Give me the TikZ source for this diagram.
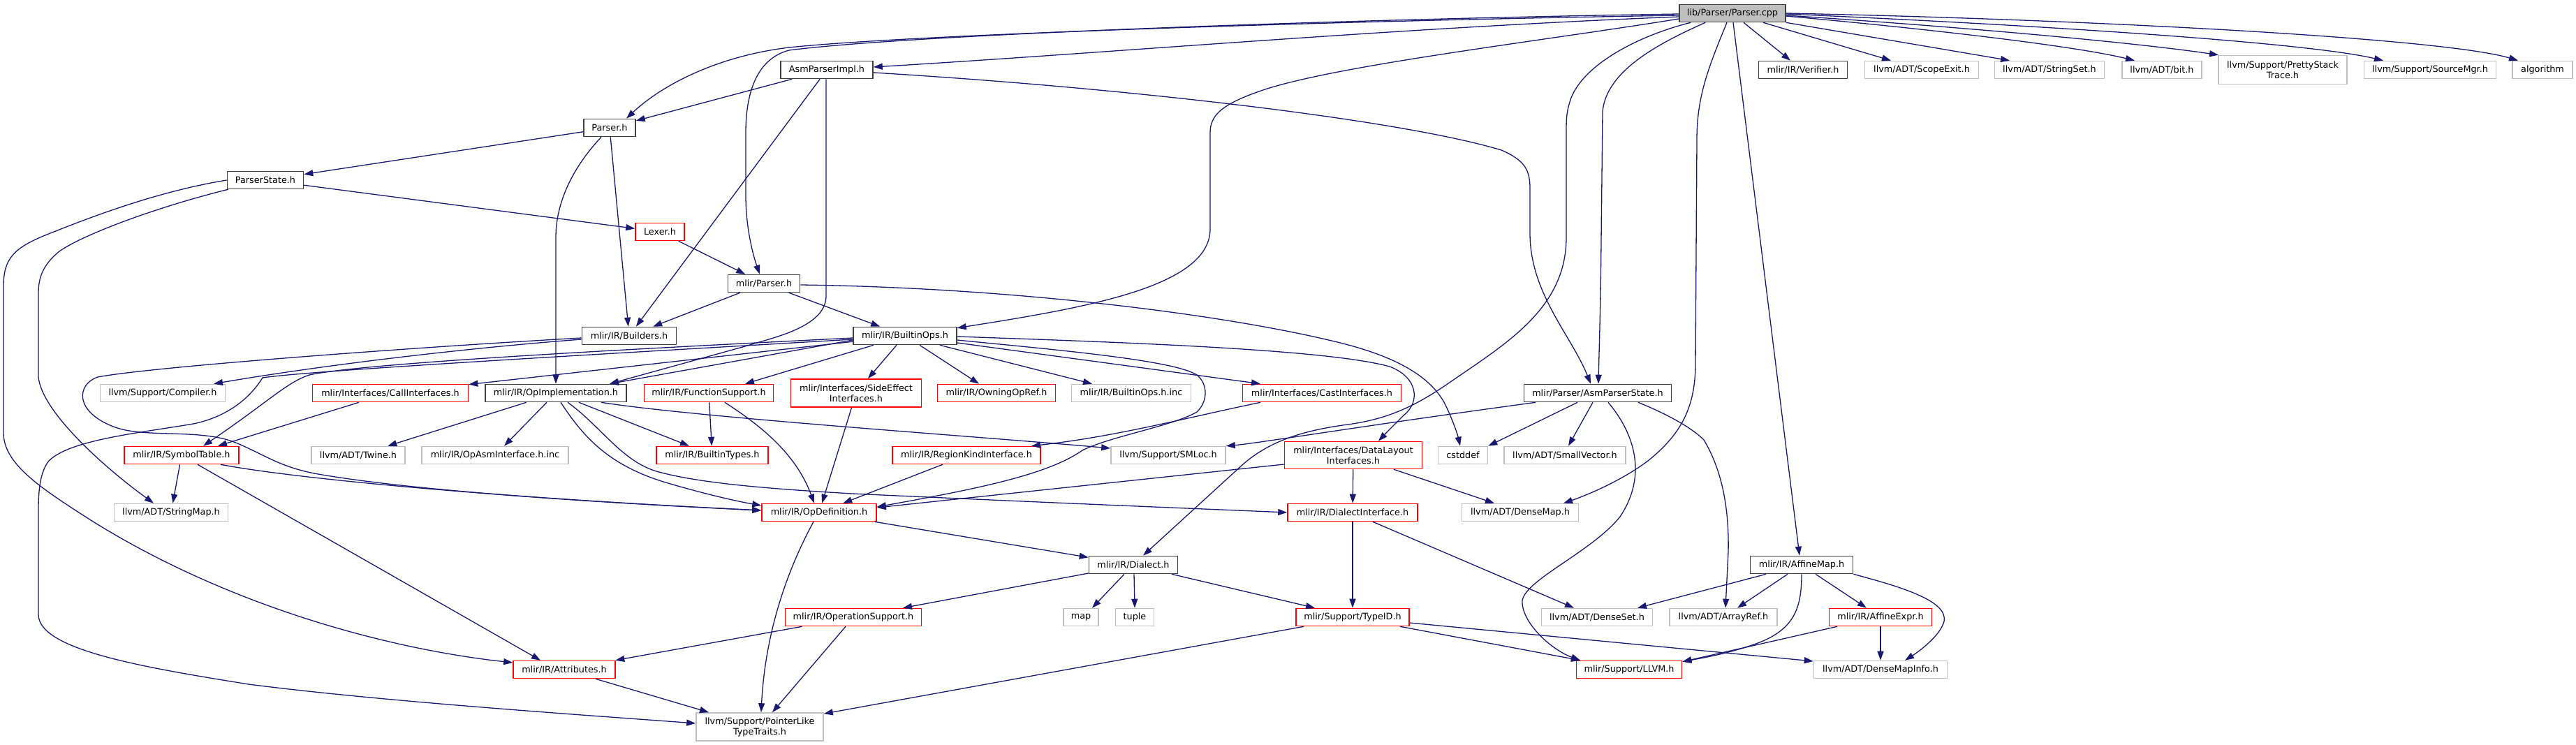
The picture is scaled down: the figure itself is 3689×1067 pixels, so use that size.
\documentclass[tikz,border=0pt]{standalone}
\usepackage{fontspec}
\setmainfont{DejaVu Sans}
\usetikzlibrary{arrows.meta}
\definecolor{edgec}{HTML}{191970}
\definecolor{bdark}{HTML}{404040}
\definecolor{bgrey}{HTML}{BFBFBF}
\definecolor{bred}{HTML}{FF0000}
\tikzset{
  nd/.style={draw, line width=1.6pt, inner sep=0pt, minimum height=25pt, fill=white, text=black, align=center, font=\fontsize{12.8}{15}\selectfont},
  nblack/.style={nd, draw=bdark},
  nroot/.style={nd, draw=bdark, fill=bgrey},
  nred/.style={nd, draw=bred},
  ngrey/.style={nd, draw=bgrey},
  ed/.style={draw=edgec, line width=1.3pt, -{Triangle[length=13pt,width=9pt]}},
}
\begin{document}
\begin{tikzpicture}[x=1pt,y=-1pt]
\useasboundingbox[fill=white] (0,0) rectangle (3689,1067);
% ---------------- nodes ----------------
\node[nroot, minimum width=152pt] (root) at (2481,19) {lib/Parser/Parser.cpp};
\node[nblack, minimum width=132pt] (asmimpl) at (1184,100) {AsmParserImpl.h};
\node[nblack, minimum width=74pt] (parserh) at (873,183) {Parser.h};
\node[nblack, minimum width=109pt] (pstate) at (380,258) {ParserState.h};
\node[nred, minimum width=70pt] (lexer) at (945,332) {Lexer.h};
\node[nblack, minimum width=103pt] (mparser) at (1094,406) {mlir/Parser.h};
\node[nblack, minimum width=135pt] (builders) at (901,481) {mlir/IR/Builders.h};
\node[nblack, minimum width=148pt] (builtinops) at (1296,481) {mlir/IR/BuiltinOps.h};
\node[nblack, minimum width=127pt] (verifier) at (2582,100) {mlir/IR/Verifier.h};
\node[ngrey, minimum width=163pt] (scopeexit) at (2752,100) {llvm/ADT/ScopeExit.h};
\node[ngrey, minimum width=157pt] (stringset) at (2935,100) {llvm/ADT/StringSet.h};
\node[ngrey, minimum width=114pt] (bith) at (3096,100) {llvm/ADT/bit.h};
\node[ngrey, minimum width=184pt, minimum height=41pt] (pretty) at (3269,100) {llvm/Support/PrettyStack\\Trace.h};
\node[ngrey, minimum width=189pt] (srcmgr) at (3480,100) {llvm/Support/SourceMgr.h};
\node[ngrey, minimum width=86pt] (algorithm) at (3641,100) {algorithm};
\node[ngrey, minimum width=179pt] (compiler) at (233,563) {llvm/Support/Compiler.h};
\node[nred, minimum width=223pt] (callif) at (559,563) {mlir/Interfaces/CallInterfaces.h};
\node[nblack, minimum width=202pt] (opimpl) at (796,563) {mlir/IR/OpImplementation.h};
\node[nred, minimum width=185pt] (funcsup) at (1015,563) {mlir/IR/FunctionSupport.h};
\node[nred, minimum width=187pt, minimum height=40pt] (sideeff) at (1226,563) {mlir/Interfaces/SideEffect\\Interfaces.h};
\node[nred, minimum width=169pt] (owning) at (1427,563) {mlir/IR/OwningOpRef.h};
\node[ngrey, minimum width=171pt] (builtinc) at (1620,563) {mlir/IR/BuiltinOps.h.inc};
\node[nred, minimum width=227pt] (castif) at (1893,563) {mlir/Interfaces/CastInterfaces.h};
\node[nblack, minimum width=211pt] (asmstate) at (2288,563) {mlir/Parser/AsmParserState.h};
\node[nred, minimum width=164pt] (symtab) at (260,652) {mlir/IR/SymbolTable.h};
\node[ngrey, minimum width=134pt] (twine) at (513,652) {llvm/ADT/Twine.h};
\node[ngrey, minimum width=210pt] (opasm) at (709,652) {mlir/IR/OpAsmInterface.h.inc};
\node[nred, minimum width=160pt] (btypes) at (1020,652) {mlir/IR/BuiltinTypes.h};
\node[nred, minimum width=212pt] (regionk) at (1384,652) {mlir/IR/RegionKindInterface.h};
\node[ngrey, minimum width=164pt] (smloc) at (1673,652) {llvm/Support/SMLoc.h};
\node[nred, minimum width=197pt, minimum height=39pt] (datalayout) at (1938,652) {mlir/Interfaces/DataLayout\\Interfaces.h};
\node[ngrey, minimum width=71pt] (cstddef) at (2095,652) {cstddef};
\node[ngrey, minimum width=174pt] (smallvec) at (2241,652) {llvm/ADT/SmallVector.h};
\node[ngrey, minimum width=163pt] (stringmap) at (245,734) {llvm/ADT/StringMap.h};
\node[nred, minimum width=164pt] (opdef) at (1173,734) {mlir/IR/OpDefinition.h};
\node[nred, minimum width=186pt] (dialectif) at (1937,734) {mlir/IR/DialectInterface.h};
\node[ngrey, minimum width=167pt] (densemap) at (2177,734) {llvm/ADT/DenseMap.h};
\node[nblack, minimum width=127pt] (dialect) at (1623,809) {mlir/IR/Dialect.h};
\node[nblack, minimum width=147pt] (affinemap) at (2580,809) {mlir/IR/AffineMap.h};
\node[nred, minimum width=195pt] (opsupport) at (1222,884) {mlir/IR/OperationSupport.h};
\node[ngrey, minimum width=50pt] (map) at (1548,884) {map};
\node[ngrey, minimum width=55pt] (tuple) at (1625,884) {tuple};
\node[nred, minimum width=162pt] (typeid) at (1937,884) {mlir/Support/TypeID.h};
\node[ngrey, minimum width=159pt] (denseset) at (2287,884) {llvm/ADT/DenseSet.h};
\node[ngrey, minimum width=154pt] (arrayref) at (2468,884) {llvm/ADT/ArrayRef.h};
\node[nred, minimum width=147pt] (affineexpr) at (2693,884) {mlir/IR/AffineExpr.h};
\node[nred, minimum width=146pt] (attributes) at (808,959) {mlir/IR/Attributes.h};
\node[nred, minimum width=151pt] (llvmh) at (2333,959) {mlir/Support/LLVM.h};
\node[ngrey, minimum width=191pt] (densemapinfo) at (2693,959) {llvm/ADT/DenseMapInfo.h};
\node[ngrey, minimum width=182pt, minimum height=40pt] (pointerlike) at (1088,1041) {llvm/Support/PointerLike\\TypeTraits.h};
% ---------------- edges from root ----------------
\draw[ed] ([yshift=-3pt]root.west) .. controls (1900,30) and (1300,50) .. (1130,68) .. controls (1030,80) and (950,120) .. ([xshift=24pt]parserh.north);
\draw[ed] ([yshift=-5pt]root.west) .. controls (2000,40) and (1600,75) .. ([yshift=4pt]asmimpl.east);
\draw[ed] ([yshift=-1pt]root.west) .. controls (1900,28) and (1300,50) .. (1130,72) .. controls (1080,85) and (1068,140) .. (1068,190) -- (1068,280) .. controls (1068,330) and (1080,370) .. ([xshift=-6pt]mparser.north);
\draw[ed] ([yshift=-8pt]root.west) .. controls (2200,60) and (1900,95) .. (1800,132) .. controls (1750,150) and (1733,165) .. (1733,190) -- (1733,330) .. controls (1730,410) and (1560,440) .. ([yshift=-2pt]builtinops.north east);
\draw[ed] ([xshift=16pt]root.south) -- ([xshift=-18pt]verifier.north);
\draw[ed] ([xshift=44pt]root.south) -- ([xshift=-44pt]scopeexit.north);
\draw[ed] (root.south east) -- ([xshift=-57pt]stringset.north);
\draw[ed] ([yshift=-4pt]root.east) .. controls (2800,45) and (2980,68) .. ([xshift=-39pt]bith.north);
\draw[ed] ([yshift=-3pt]root.east) .. controls (2800,38) and (3050,60) .. ([xshift=-92pt]pretty.north);
\draw[ed] ([yshift=-1pt]root.east) .. controls (2900,35) and (3300,60) .. ([xshift=-67pt]srcmgr.north);
\draw[ed] (root.east) .. controls (3000,28) and (3500,55) .. ([xshift=-35pt]algorithm.north);
\draw[ed] ([xshift=38pt]root.south west) .. controls (2380,60) and (2300,100) .. (2295,160) -- (2293,344) .. controls (2292,450) and (2290,500) .. ([xshift=1pt]asmstate.north);
\draw[ed] ([xshift=17pt]root.south west) .. controls (2350,50) and (2270,90) .. (2250,140) .. controls (2243,160) and (2243,170) .. (2243,190) -- (2243,340) .. controls (2243,440) and (2160,490) .. (2080,545) .. controls (2030,580) and (1990,600) .. (1930,608) .. controls (1870,616) and (1820,630) .. (1780,665) -- ([xshift=14pt]dialect.north);
\draw[ed] ([xshift=-8pt]root.south) .. controls (2445,100) and (2430,140) .. (2430,200) -- (2428,520) .. controls (2428,580) and (2410,620) .. (2360,660) .. controls (2320,690) and (2270,710) .. ([xshift=62pt]densemap.north);
\draw[ed] ([xshift=1pt]root.south) -- ([xshift=-3pt]affinemap.north);
% ---------------- AsmParserImpl ----------------
\draw[ed] (asmimpl) -- (parserh);
\draw[ed] (asmimpl) -- (builders);
\draw[ed] ([xshift=-1pt]asmimpl.south) -- (1183,424) .. controls (1183,470) and (1100,485) .. (1067,496) -- ([xshift=77pt]opimpl.north);
\draw[ed] ([yshift=-4pt]asmimpl.east) .. controls (1600,125) and (2000,170) .. (2150,215) .. controls (2185,230) and (2191,245) .. (2191,270) -- (2191,334) .. controls (2191,420) and (2250,480) .. ([xshift=-10pt]asmstate.north);
% ---------------- Parser.h / ParserState / Lexer / mlir/Parser.h ----------------
\draw[ed] (parserh) -- (pstate);
\draw[ed] (parserh) -- (builders);
\draw[ed] ([xshift=-12pt]parserh.south) .. controls (820,240) and (796,290) .. (796,340) -- (opimpl.north);
\draw[ed] (pstate) -- (lexer);
\draw[ed] (pstate.west) .. controls (220,275) and (120,315) .. (67,336) .. controls (20,355) and (5,370) .. (5,410) -- (5,620) .. controls (5,665) and (60,700) .. (130,745) .. controls (330,870) and (560,930) .. ([yshift=10pt]attributes.west);
\draw[ed] ([xshift=2pt]pstate.south west) .. controls (230,295) and (120,335) .. (85,360) .. controls (60,380) and (55,400) .. (55,420) -- (55,540) .. controls (60,590) and (150,670) .. ([xshift=-25pt]stringmap.north);
\draw[ed] (lexer) -- (mparser);
\draw[ed] (mparser) -- (builders);
\draw[ed] (mparser) -- (builtinops);
\draw[ed] ([yshift=-2pt]mparser.east) .. controls (1450,412) and (1750,450) .. (1911,489) .. controls (2000,510) and (2050,540) .. (2070,580) .. controls (2082,605) and (2088,625) .. ([xshift=-4pt]cstddef.north);
% ---------------- Builders ----------------
\draw[ed] ([yshift=-5pt]builders.west) .. controls (650,500) and (450,525) .. ([xshift=73pt]compiler.north);
\draw[ed] ([yshift=-3pt]builders.west) .. controls (600,497) and (220,525) .. (140,540) .. controls (110,550) and (105,590) .. (165,612) .. controls (210,628) and (290,613) .. (340,635) .. controls (380,652) and (400,668) .. (450,678) .. controls (600,705) and (900,722) .. ([yshift=3pt]opdef.west);
% ---------------- BuiltinOps ----------------
\draw[ed] (builtinops) -- (callif);
\draw[ed] ([yshift=-6pt]builtinops.west) -- ([xshift=77pt]opimpl.north);
\draw[ed] ([xshift=-45pt]builtinops.south) -- ([xshift=52pt]funcsup.north);
\draw[ed] ([xshift=-12pt]builtinops.south) -- ([xshift=17pt]sideeff.north);
\draw[ed] ([xshift=21pt]builtinops.south) -- ([xshift=-25pt]owning.north);
\draw[ed] ([xshift=50pt]builtinops.south) -- ([xshift=-56pt]builtinc.north);
\draw[ed] ([yshift=-10pt]builtinops.east) -- ([xshift=-88pt]castif.north);
\draw[ed] ([yshift=-1pt]builtinops.east) .. controls (1600,490) and (1900,500) .. (1990,525) .. controls (2030,540) and (2035,575) .. (2010,595) .. controls (1995,610) and (1985,620) .. ([xshift=36pt]datalayout.north);
\draw[ed] ([yshift=-6pt]builtinops.east) .. controls (1500,500) and (1680,515) .. (1714,537) .. controls (1730,550) and (1730,575) .. (1714,590) .. controls (1680,610) and (1590,625) .. (1550,645) .. controls (1500,680) and (1400,700) .. ([yshift=8pt]opdef.east);
\draw[ed] ([yshift=-3pt]builtinops.west) .. controls (900,500) and (520,520) .. (443,537) .. controls (410,548) and (385,575) .. ([xshift=31pt]symtab.north);
\draw[ed] ([yshift=-5pt]builtinops.west) .. controls (900,505) and (450,530) .. (376,541) .. controls (355,575) and (320,598) .. (277,607) .. controls (200,620) and (100,630) .. (70,660) .. controls (58,675) and (55,700) .. (55,730) -- (55,880) .. controls (55,930) and (200,955) .. (356,980) .. controls (550,1005) and (850,1025) .. ([yshift=5pt]pointerlike.west);
% ---------------- row 4 ----------------
\draw[ed] ([xshift=-45pt]callif.south) -- ([xshift=52pt]symtab.north);
\draw[ed] (opimpl) -- (twine);
\draw[ed] (opimpl) -- (opasm);
\draw[ed] ([xshift=7pt]opimpl.south) .. controls (835,625) and (870,665) .. (950,690) .. controls (1000,705) and (1050,717) .. ([yshift=10pt]opdef.west);
\draw[ed] ([xshift=17pt]opimpl.south) .. controls (860,610) and (890,660) .. (940,675) .. controls (1000,692) and (1100,700) .. (1220,707) .. controls (1500,720) and (1750,730) .. (dialectif.west);
\draw[ed] ([xshift=33pt]opimpl.south) -- ([xshift=-33pt]btypes.north);
\draw[ed] ([xshift=65pt]opimpl.south) .. controls (1000,598) and (1400,625) .. ([yshift=10pt]smloc.west);
\draw[ed] (funcsup) -- (btypes);
\draw[ed] ([xshift=23pt]funcsup.south) .. controls (1090,610) and (1140,650) .. ([xshift=-7pt]opdef.north);
\draw[ed] (sideeff) -- (opdef);
\draw[ed] ([xshift=-88pt]castif.south) .. controls (1700,598) and (1600,625) .. ([xshift=93pt]regionk.north);
\draw[ed] ([xshift=-89pt]asmstate.south) .. controls (1950,610) and (1800,635) .. (smloc.north east);
\draw[ed] ([xshift=-29pt]asmstate.south) -- (cstddef.north east);
\draw[ed] ([xshift=-7pt]asmstate.south) -- ([xshift=5pt]smallvec.north);
\draw[ed] ([xshift=15pt]asmstate.south) .. controls (2340,620) and (2360,680) .. (2320,740) .. controls (2280,790) and (2185,830) .. (2180,860) .. controls (2178,890) and (2220,930) .. ([xshift=-70pt]llvmh.north);
\draw[ed] ([xshift=58pt]asmstate.south) .. controls (2380,590) and (2420,610) .. (2440,630) .. controls (2470,680) and (2476,740) .. (2475,790) -- ([xshift=3pt]arrayref.north);
% ---------------- row 5 ----------------
\draw[ed] (symtab) -- (stringmap);
\draw[ed] ([xshift=23pt]symtab.south) -- ([xshift=-34pt]attributes.north);
\draw[ed] ([xshift=56pt]symtab.south) .. controls (420,685) and (700,712) .. ([yshift=3pt]opdef.west);
\draw[ed] (regionk) -- (opdef);
\draw[ed] ([yshift=-13pt]datalayout.west) -- ([yshift=7pt]opdef.east);
\draw[ed] (datalayout) -- (dialectif);
\draw[ed] ([xshift=58pt]datalayout.south) -- ([xshift=-37pt]densemap.north);
% ---------------- row 6 ----------------
\draw[ed] (opdef) -- (dialect);
\draw[ed] ([xshift=-8pt]opdef.south) .. controls (1120,830) and (1095,920) .. ([xshift=2pt]pointerlike.north);
\draw[ed] (dialectif) -- (typeid);
\draw[ed] ([xshift=29pt]dialectif.south) -- ([xshift=-33pt]denseset.north);
% ---------------- row 7 ----------------
\draw[ed] (dialect) -- (opsupport);
\draw[ed] ([xshift=-13pt]dialect.south) -- ([xshift=16pt]map.north);
\draw[ed] ([xshift=1pt]dialect.south) -- (tuple.north);
\draw[ed] ([xshift=55pt]dialect.south) -- ([xshift=-54pt]typeid.north);
\draw[ed] ([xshift=-51pt]affinemap.south) -- ([xshift=58pt]denseset.north);
\draw[ed] ([xshift=-20pt]affinemap.south) -- ([xshift=20pt]arrayref.north);
\draw[ed] (affinemap.south) .. controls (2580,870) and (2570,900) .. (2520,920) .. controls (2480,935) and (2440,942) .. ([yshift=-2pt]llvmh.north east);
\draw[ed] ([xshift=20pt]affinemap.south) -- ([xshift=-20pt]affineexpr.north);
\draw[ed] (affinemap.south east) .. controls (2720,840) and (2790,860) .. (2784,890) .. controls (2778,912) and (2745,935) .. ([xshift=35pt]densemapinfo.north);
% ---------------- row 8 ----------------
\draw[ed] (opsupport) -- (attributes);
\draw[ed] ([xshift=-11pt]opsupport.south) -- ([xshift=18pt]pointerlike.north);
\draw[ed] ([xshift=-70pt]typeid.south) -- ([yshift=-2pt]pointerlike.north east);
\draw[ed] ([xshift=68pt]typeid.south) -- ([xshift=-70pt]llvmh.north);
\draw[ed] ([yshift=-8pt]typeid.east) -- ([yshift=12pt]densemapinfo.west);
\draw[ed] ([xshift=-62pt]affineexpr.south) -- ([yshift=-2pt]llvmh.north east);
\draw[ed] (affineexpr) -- (densemapinfo);
\draw[ed] ([xshift=45pt]attributes.south) -- ([xshift=-73pt]pointerlike.north);
\end{tikzpicture}
\end{document}
